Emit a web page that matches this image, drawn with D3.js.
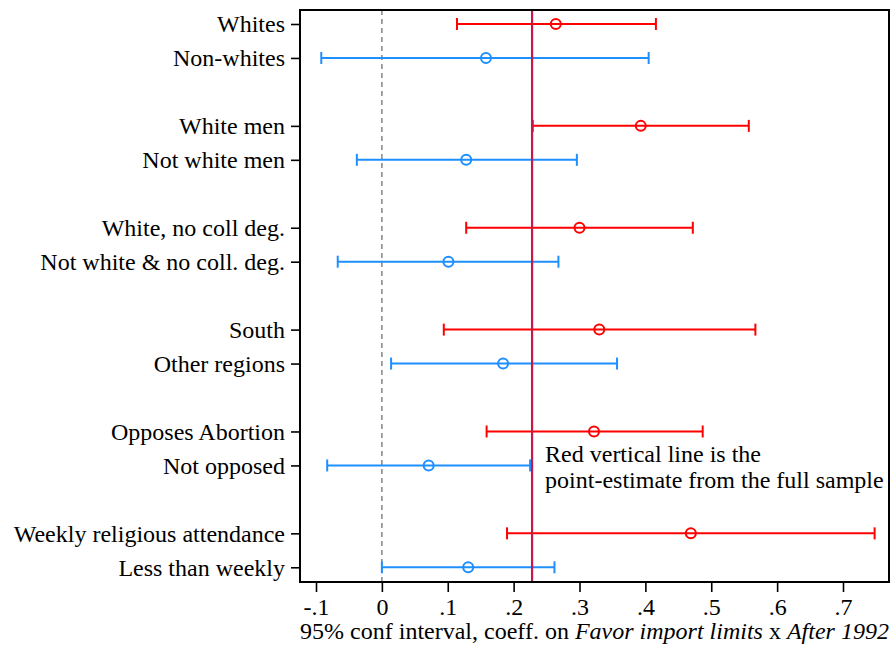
<!DOCTYPE html>
<html>
<head>
<meta charset="utf-8">
<script src="https://cdn.jsdelivr.net/npm/d3@7"></script>
<style>
    body { margin: 0; background: #fff; }
</style>
</head>
<body>
<svg id="chart" width="893" height="649"></svg>
<script>
// subgroup labels, top to bottom
const groups = ["Whites", "Non-whites", "White men", "Not white men",
    "White, no coll deg.", "Not white & no coll. deg.", "South", "Other regions",
    "Opposes Abortion", "Not opposed", "Weekly religious attendance", "Less than weekly"];
// row slot of each subgroup (blank slot between pairs)
const rows = [0, 1, 3, 4, 6, 7, 9, 10, 12, 13, 15, 16];
// which side of the split each row is on
const side = ["in", "out", "in", "out", "in", "out", "in", "out", "in", "out", "in", "out"];
const estimate = [0.264, 0.158, 0.393, 0.128, 0.300, 0.101, 0.330, 0.184, 0.322, 0.071, 0.469, 0.131];
const lower = [0.114, -0.092, 0.229, -0.038, 0.128, -0.067, 0.094, 0.014, 0.159, -0.083, 0.190, 0.000];
const upper = [0.416, 0.405, 0.557, 0.296, 0.472, 0.268, 0.567, 0.357, 0.487, 0.225, 0.748, 0.262];
const fullSample = 0.228;
const xTicks = [-0.1, 0, 0.1, 0.2, 0.3, 0.4, 0.5, 0.6, 0.7];
const xTickLabels = ["-.1", "0", ".1", ".2", ".3", ".4", ".5", ".6", ".7"];

let svg = d3.select("#chart");
let fontSize = 24;
let serif = "'Liberation Serif', 'DejaVu Serif', serif";

let plotLeft = 300, plotRight = 889, plotTop = 10, plotBottom = 582;

let xScale = d3.scaleLinear()
    .domain([-0.1, 0.7])
    .range([316, 843]);
let yScale = d3.scaleLinear()
    .domain([0, 16])
    .range([24, 567.3]);
let color = d3.scaleOrdinal()
    .domain(["in", "out"])
    .range(["#ff0000", "#1e8fff"]);

let data = groups.map((g, i) => ({
    group: g, row: rows[i], side: side[i],
    est: estimate[i], lo: lower[i], hi: upper[i]
}));

// zero reference line
svg.append("line")
    .attr("x1", xScale(0)).attr("x2", xScale(0))
    .attr("y1", plotTop).attr("y2", plotBottom)
    .attr("stroke", "#8c8c8c")
    .attr("stroke-width", 1.6)
    .attr("stroke-dasharray", "5,4");

// confidence intervals
let ci = svg.append("g").selectAll("g")
    .data(data)
    .enter().append("g")
    .attr("stroke", d => color(d.side))
    .attr("stroke-width", 2)
    .attr("fill", "none");

ci.append("line")
    .attr("x1", d => xScale(d.lo))
    .attr("x2", d => xScale(d.hi))
    .attr("y1", d => yScale(d.row))
    .attr("y2", d => yScale(d.row));

ci.selectAll(".cap")
    .data(d => [d.lo, d.hi].map(v => ({v: v, row: d.row})))
    .enter().append("line")
    .attr("class", "cap")
    .attr("x1", d => xScale(d.v))
    .attr("x2", d => xScale(d.v))
    .attr("y1", d => yScale(d.row) - 6)
    .attr("y2", d => yScale(d.row) + 6);

// full sample line
svg.append("line")
    .attr("x1", xScale(fullSample)).attr("x2", xScale(fullSample))
    .attr("y1", plotTop).attr("y2", plotBottom)
    .attr("stroke", "#c8174a")
    .attr("stroke-width", 2.2);

// point estimates (hollow circles)
ci.append("circle")
    .attr("cx", d => xScale(d.est))
    .attr("cy", d => yScale(d.row))
    .attr("r", 5)
    .attr("fill", "none");

// axes
let yAxis = d3.axisLeft(yScale)
    .tickValues(rows)
    .tickFormat((d, i) => groups[i])
    .tickSize(9)
    .tickPadding(6);
let gy = svg.append("g")
    .attr("transform", "translate(" + plotLeft + ",0)")
    .call(yAxis)
    .attr("font-family", serif)
    .attr("font-size", fontSize);
gy.select(".domain").remove();
gy.selectAll("text").attr("dy", "0.33em").attr("fill", "#000");
gy.selectAll("line").attr("stroke-width", 1.6);

let xAxis = d3.axisBottom(xScale)
    .tickValues(xTicks)
    .tickFormat((d, i) => xTickLabels[i])
    .tickSize(10)
    .tickPadding(6);
let gx = svg.append("g")
    .attr("transform", "translate(0," + plotBottom + ")")
    .call(xAxis)
    .attr("font-family", serif)
    .attr("font-size", fontSize);
gx.select(".domain").remove();
gx.selectAll("text").attr("fill", "#000");
gx.selectAll("line").attr("stroke-width", 1.6);

// frame
svg.append("rect")
    .attr("x", plotLeft).attr("y", plotTop)
    .attr("width", plotRight - plotLeft).attr("height", plotBottom - plotTop)
    .attr("fill", "none")
    .attr("stroke", "#000")
    .attr("stroke-width", 2);

// axis title
let title = svg.append("text")
    .attr("x", (plotLeft + plotRight) / 2)
    .attr("y", 639)
    .attr("text-anchor", "middle")
    .attr("font-family", serif)
    .attr("font-size", fontSize);
title.append("tspan").text("95% conf interval, coeff. on ");
title.append("tspan").attr("font-style", "italic").text("Favor import limits");
title.append("tspan").text(" x ");
title.append("tspan").attr("font-style", "italic").text("After 1992");

// note
let note = svg.append("text")
    .attr("x", xScale(fullSample) + 13)
    .attr("y", 462)
    .attr("font-family", serif)
    .attr("font-size", fontSize);
note.append("tspan").text("Red vertical line is the");
note.append("tspan")
    .attr("x", xScale(fullSample) + 13)
    .attr("dy", 26)
    .text("point-estimate from the full sample");
</script>
</body>
</html>
